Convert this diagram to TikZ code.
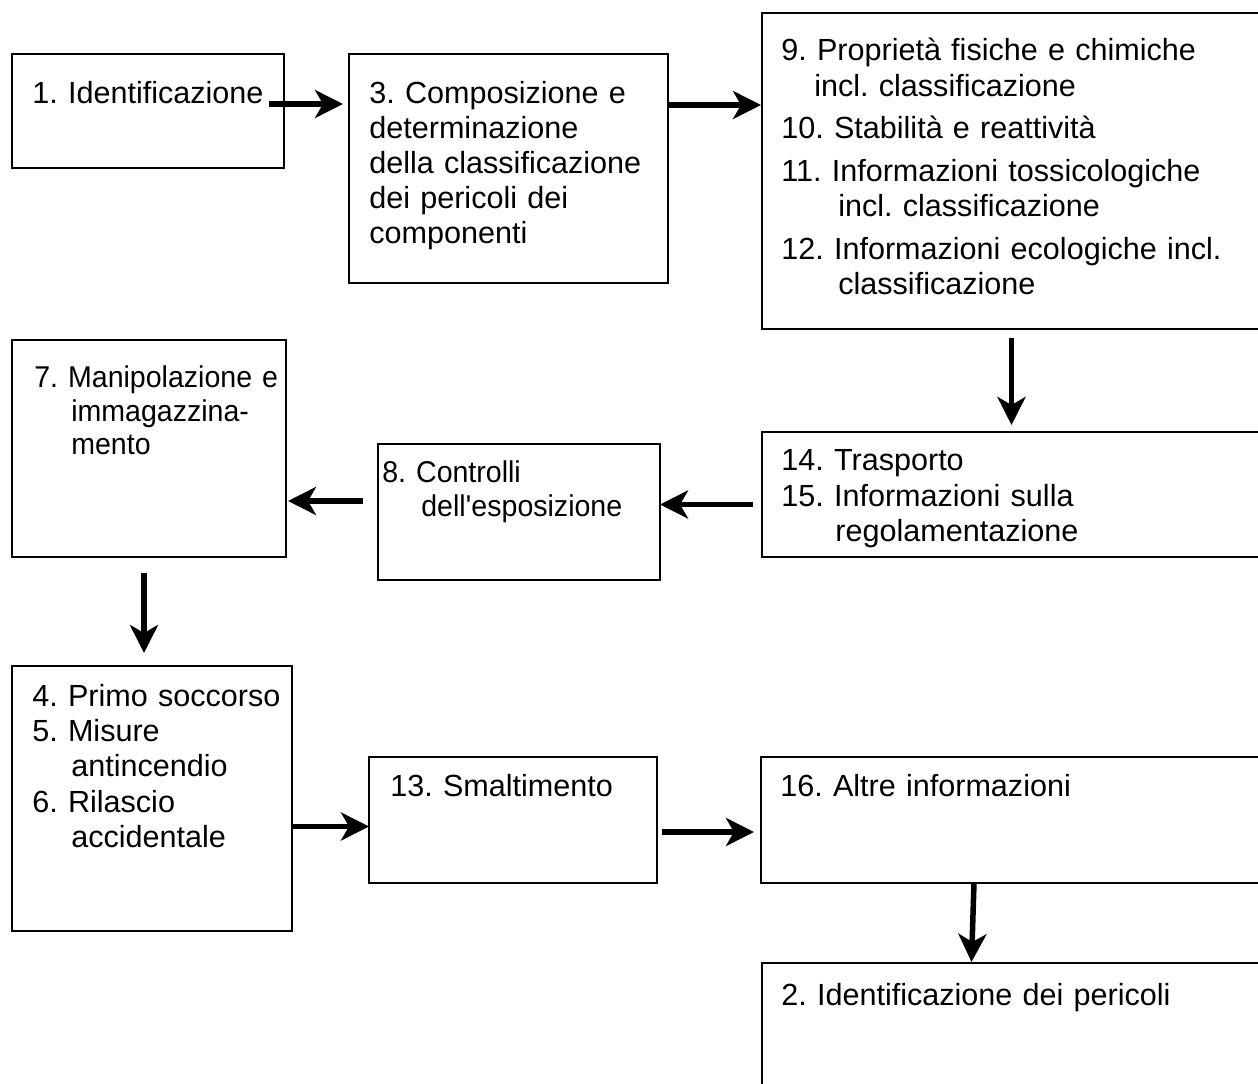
\documentclass[tikz,border=0pt]{standalone}
\usepackage{fontspec}
\setmainfont{Liberation Sans}
\newfontfamily\narrowfont[FakeStretch=0.95]{Liberation Sans}
\usetikzlibrary{arrows.meta,calc,fit}
\frenchspacing

\begin{document}
\begin{tikzpicture}[x=0.02cm, y=-0.02cm,
    box/.style={draw, line width=0.05cm, inner sep=0pt, outer sep=0pt},
    txt/.style={anchor=base west, inner sep=0pt, text width=11cm, align=left,
      font=\fontsize{17.4pt}{19.9pt}\selectfont\frenchspacing},
    arr/.style={line width=0.11cm, -{Stealth[length=0.56cm, width=0.56cm, inset=0.16cm]}}]
    \useasboundingbox (0,0) rectangle (1258,1084);

    % Top row
    \node[box, fit={(12,54) (284,168)}] (b1) {};
    \node[txt] (t1) at (32,104) {1. Identificazione};
    \node[box, fit={(349,54) (668,283)}] (b3) {};
    \node[txt] (t3) at (369,104) {3. Composizione e\\determinazione\\della classificazione\\dei pericoli dei\\componenti};
    \node[box, fit={(762,13) (1261,329)}] (b9) {};
    \node[txt, font=\fontsize{17.4pt}{20.2pt}\selectfont\frenchspacing] (t9) at (781,61) {9. Proprietà fisiche e chimiche\\\hspace*{0.66cm}incl. classificazione\\[0.14cm]10. Stabilità e reattività\\[0.14cm]11. Informazioni tossicologiche\\\hspace*{1.14cm}incl. classificazione\\[0.14cm]12. Informazioni ecologiche incl.\\\hspace*{1.14cm}classificazione};

    % Middle row
    \node[box, fit={(12,340) (286,557)}] (b7) {};
    \node[txt, font=\narrowfont\fontsize{17.1pt}{18.8pt}\selectfont\frenchspacing] (t7) at (34,388) {7. Manipolazione e\\\hspace*{0.74cm}immagazzina-\\\hspace*{0.74cm}mento};
    \node[box, fit={(378,444) (660,580)}] (b8) {};
    \node[txt, font=\narrowfont\fontsize{17.1pt}{19.9pt}\selectfont\frenchspacing] (t8) at (382,482) {8. Controlli\\\hspace*{0.78cm}dell\textquotesingle esposizione};
    \node[box, fit={(762,432) (1261,557)}] (b14) {};
    \node[txt, font=\fontsize{17.4pt}{20.2pt}\selectfont\frenchspacing] (t14) at (781,471) {14. Trasporto\\15. Informazioni sulla\\\hspace*{1.08cm}regolamentazione};

    % Bottom row
    \node[box, fit={(12,666) (292,931)}] (b4) {};
    \node[txt, font=\fontsize{17.4pt}{20.2pt}\selectfont\frenchspacing] (t4) at (32,706) {4. Primo soccorso\\5. Misure\\\hspace*{0.78cm}antincendio\\6. Rilascio\\\hspace*{0.78cm}accidentale};
    \node[box, fit={(369,757) (657,883)}] (b13) {};
    \node[txt] (t13) at (390,796) {13. Smaltimento};
    \node[box, fit={(761,757) (1261,883)}] (b16) {};
    \node[txt] (t16) at (780,796) {16. Altre informazioni};
    \node[box, fit={(762,963) (1261,1120)}] (b2) {};
    \node[txt] (t2) at (781,1005) {2. Identificazione dei pericoli};

    % Arrows
    \draw[arr] ($(b1.east)+(-15,-7)$) -- ($(b3.west |- b1.east)+(-6,-7)$);
    \draw[arr] ($(b3.east |- b1.east)+(0,-6)$) -- ($(b9.west |- b1.east)+(-1,-6)$);
    \draw[arr] ($(b9.south)+(0,9)$) -- ($(b14.north)+(0,-7)$);
    \draw[arr] ($(b14.west)+(-9,10)$) -- ($(b8.east |- b14.west)+(0,10)$);
    \draw[arr] ($(b8.west)+(-15,-11)$) -- ($(b7.east |- b8.west)+(2,-11)$);
    \draw[arr] ($(b7.south)+(-5,16)$) -- ($(b4.north)+(-8,-13)$);
    \draw[arr] ($(b4.east)+(1,28)$) -- ($(b13.west |- b4.east)+(0,28)$);
    \draw[arr] ($(b13.east)+(5,12)$) -- ($(b16.west)+(-7,12)$);
    \draw[arr] ($(b16.south)+(-37,0)$) -- ($(b2.north)+(-40,-1)$);
\end{tikzpicture}
\end{document}
